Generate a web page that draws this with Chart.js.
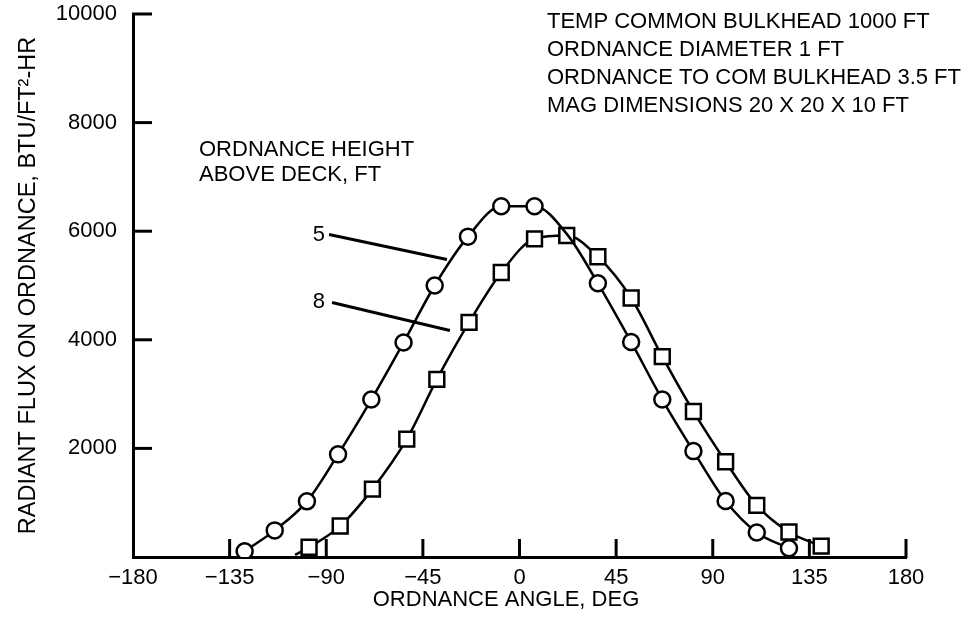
<!DOCTYPE html>
<html><head><meta charset="utf-8">
<script src="https://cdn.jsdelivr.net/npm/chart.js@4"></script>
<style>html,body{margin:0;padding:0;background:#fff}#wrap{width:969px;height:630px}</style>
</head><body><div id="wrap"><canvas id="c" width="969" height="630"></canvas></div>
<script>
// ---- data ----
const angles5 = [-128, -114, -99, -84.5, -69, -54, -39.5, -24, -8.5, 7, 22, 36.5, 52, 66.5, 81, 96, 110.5, 125.5];
const flux5   = [105, 490, 1025, 1890, 2900, 3950, 5000, 5900, 6460, 6460, 5950, 5040, 3960, 2900, 1950, 1030, 450, 160];
const hidden5 = [10];
const angles8 = [-104.5, -98, -83.5, -68.5, -52.5, -38.5, -23.5, -8.5, 7, 22, 36.5, 52, 66.5, 81, 96, 110.5, 125.5, 140.5];
const flux8   = [40, 180, 570, 1250, 2170, 3270, 4320, 5240, 5860, 5920, 5530, 4770, 3690, 2680, 1755, 950, 460, 200];
const hidden8 = [0];
const seriesLabels = ['5', '8'];
const xTickValues = [-180, -135, -90, -45, 0, 45, 90, 135, 180];
const xTickLabels = ['\u2212180', '\u2212135', '\u221290', '\u221245', '0', '45', '90', '135', '180'];
const yTickValues = [0, 2000, 4000, 6000, 8000, 10000];
const yTickLabels = ['', '2000', '4000', '6000', '8000', '10000'];
const xTitle = 'ORDNANCE ANGLE, DEG';
const yTitle = 'RADIANT FLUX ON ORDNANCE, BTU/FT\u00B2-HR';
const notes = ['TEMP COMMON BULKHEAD 1000 FT', 'ORDNANCE DIAMETER 1 FT', 'ORDNANCE TO COM BULKHEAD 3.5 FT', 'MAG DIMENSIONS 20 X 20 X 10 FT'];
const heightTitle = ['ORDNANCE HEIGHT', 'ABOVE DECK, FT'];

// ---- layout / style ----
const FONT = '"Liberation Sans", Arial, Helvetica, sans-serif';
const FS = 22;
const callouts = [
  {text: seriesLabels[0], tx: -93.4, ty: 5929, x1: -88.7, y1: 5938, x2: -33.8, y2: 5478},
  {text: seriesLabels[1], tx: -93.4, ty: 4696, x1: -87.3, y1: 4686, x2: -32.4, y2: 4171}
];

Chart.defaults.font.family = FONT;
Chart.defaults.font.size = FS;
Chart.defaults.color = '#000';

const annot = {
  id: 'annot',
  afterDraw(chart) {
    const {ctx, chartArea: ca, scales: {x, y}} = chart;
    ctx.save();
    ctx.strokeStyle = '#000';
    ctx.fillStyle = '#000';
    ctx.lineWidth = 3;
    ctx.lineCap = 'butt';
    // inward tick marks
    xTickValues.forEach(v => {
      if (v === x.min) return;
      const px = x.getPixelForValue(v);
      ctx.beginPath(); ctx.moveTo(px, ca.bottom + 1); ctx.lineTo(px, ca.bottom - 18); ctx.stroke();
    });
    yTickValues.forEach(v => {
      if (v === y.min) return;
      const py = y.getPixelForValue(v);
      ctx.beginPath(); ctx.moveTo(ca.left - 1, py); ctx.lineTo(ca.left + 19, py); ctx.stroke();
    });
    // callouts
    ctx.font = FS + 'px ' + FONT;
    ctx.textBaseline = 'middle';
    ctx.textAlign = 'center';
    callouts.forEach(c => {
      ctx.fillText(c.text, x.getPixelForValue(c.tx), y.getPixelForValue(c.ty));
      ctx.beginPath();
      ctx.moveTo(x.getPixelForValue(c.x1), y.getPixelForValue(c.y1));
      ctx.lineTo(x.getPixelForValue(c.x2), y.getPixelForValue(c.y2));
      ctx.stroke();
    });
    // x title
    ctx.fillText(xTitle, 506, 600);
    // notes
    ctx.textAlign = 'left';
    notes.forEach((t, i) => ctx.fillText(t, 547, 22 + i * 28));
    heightTitle.forEach((t, i) => ctx.fillText(t, 199, 150 + i * 25));
    ctx.restore();
  }
};

const ptRadius = (hidden, r) => c => hidden.includes(c.dataIndex) ? 0 : r;

new Chart(document.getElementById('c'), {
  type: 'scatter',
  data: {
    datasets: [
      {
        label: seriesLabels[0],
        data: angles5.map((a, i) => ({x: a, y: flux5[i]})),
        showLine: true,
        borderColor: '#000',
        borderWidth: 2.5,
        cubicInterpolationMode: 'monotone',
        pointStyle: 'circle',
        pointRadius: ptRadius(hidden5, 8),
        pointBackgroundColor: '#fff',
        pointBorderColor: '#000',
        pointBorderWidth: 2.5
      },
      {
        label: seriesLabels[1],
        data: angles8.map((a, i) => ({x: a, y: flux8[i]})),
        showLine: true,
        borderColor: '#000',
        borderWidth: 2.5,
        cubicInterpolationMode: 'monotone',
        pointStyle: 'rect',
        pointRadius: ptRadius(hidden8, 10.5),
        pointBackgroundColor: '#fff',
        pointBorderColor: '#000',
        pointBorderWidth: 2.5
      }
    ]
  },
  options: {
    responsive: false,
    animation: false,
    devicePixelRatio: 1,
    layout: {padding: {left: 0, top: 14, right: 63, bottom: 0}},
    plugins: {legend: {display: false}, tooltip: {enabled: false}},
    scales: {
      x: {
        type: 'linear', min: -180, max: 180,
        afterBuildTicks: s => { s.ticks = xTickValues.map(v => ({value: v})); },
        afterFit: s => { s.height = 73; },
        ticks: {
          autoSkip: false, maxRotation: 0, padding: 8, color: '#000',
          font: {size: FS},
          callback: v => xTickLabels[xTickValues.indexOf(v)]
        },
        grid: {display: true, drawOnChartArea: false, drawTicks: false, color: 'rgba(0,0,0,0)'},
        border: {display: true, color: '#000', width: 3}
      },
      y: {
        type: 'linear', min: 0, max: 10000,
        afterBuildTicks: s => { s.ticks = yTickValues.map(v => ({value: v})); },
        afterFit: s => { s.width = 133; s.paddingTop = 0; s.paddingBottom = 0; },
        ticks: {
          autoSkip: false, padding: 16, color: '#000',
          font: {size: FS},
          callback: v => yTickLabels[yTickValues.indexOf(v)]
        },
        grid: {display: true, drawOnChartArea: false, drawTicks: false, color: 'rgba(0,0,0,0)'},
        border: {display: true, color: '#000', width: 3},
        title: {display: true, text: yTitle, color: '#000', font: {size: 23.5}, padding: {top: 14, bottom: 0}}
      }
    }
  },
  plugins: [annot]
});
</script>
</body></html>
